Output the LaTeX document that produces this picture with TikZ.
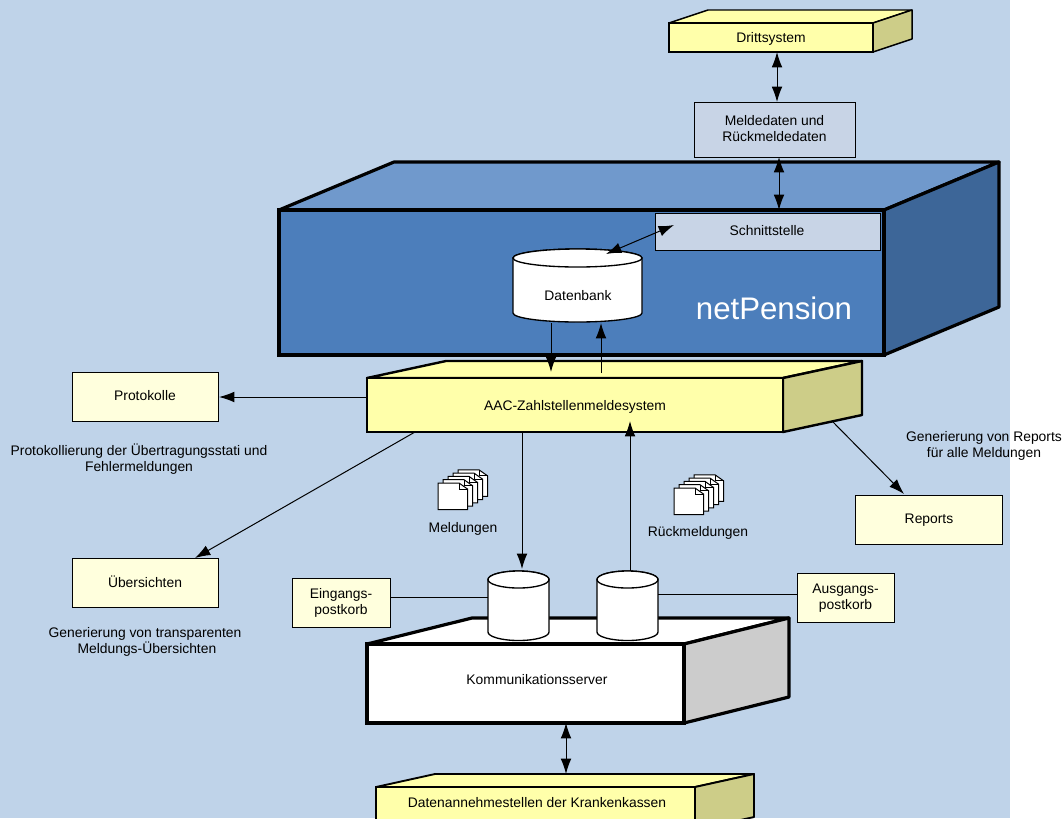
\documentclass[tikz,border=0pt]{standalone}
\usepackage{fontspec}
\setmainfont{Liberation Sans}
\usetikzlibrary{arrows.meta}
\definecolor{bgblue}{HTML}{BFD3E9}
\definecolor{npfront}{HTML}{4C7EBB}
\definecolor{nptop}{HTML}{7099CC}
\definecolor{npside}{HTML}{3D6698}
\definecolor{yfront}{HTML}{FFFFAA}
\definecolor{yside}{HTML}{CDCD88}
\definecolor{pale}{HTML}{FFFFDD}
\definecolor{greyblue}{HTML}{C8D4E6}
\definecolor{kside}{HTML}{CCCCCC}
\tikzset{
  every node/.style={outer sep=0pt},
  lbl/.style={font=\fontsize{10.4}{12}\selectfont,align=center,text=black,inner sep=0pt},
  flatbox/.style={draw=black,line width=0.75pt,fill=#1,inner sep=0pt,font=\fontsize{10.4}{12}\selectfont,align=center},
  conn/.style={draw=black,line width=0.75pt},
  darrow/.style={conn,{Latex[length=11.5pt,width=8pt]}-{Latex[length=11.5pt,width=8pt]}},
  sarrow/.style={conn,-{Latex[length=11.5pt,width=8pt]}},
}
\newcommand{\solidbox}[9]{%
  \path[#9,line join=round]
    (#2,#3) -- ++(#6,#7) -- (#4+#6,#3+#7) -- (#4,#3) -- cycle;
  \path[#8,line join=round]
    (#4,#3) -- (#4+#6,#3+#7) -- (#4+#6,#5+#7) -- (#4,#5) -- cycle;
}
\newcommand{\cyl}[6]{% name, x1, x2, ytopcentre, ybottomcentre, ry
  \path[draw=black,line width=1pt,fill=white]
    (#2,#4) -- (#2,#5) arc[start angle=180,end angle=0,x radius={(#3-#2)/2},y radius=#6]
    -- (#3,#4) arc[start angle=0,end angle=-180,x radius={(#3-#2)/2},y radius=#6] -- cycle;
  \path[draw=black,line width=1pt,fill=white]
    ({(#2+#3)/2},#4) ellipse[x radius={(#3-#2)/2},y radius=#6];
  \coordinate (#1) at ({(#2+#3)/2},{(#4+#5)/2});
}
\newcommand{\docs}[3]{% name, x, y of frontmost top-left
  \coordinate (#1) at (#2,#3);
  \foreach \i in {4,3,2,1,0}{
    \path[draw=black,line width=0.75pt,fill=white]
      ({#2+\i*5},{#3-\i*3.3}) -- ++(21,0) -- ++(8.5,6) -- ++(0,20.5) -- ++(-29.5,0) -- cycle;
    \path[draw=black,line width=0.75pt]
      ({#2+\i*5+21},{#3-\i*3.3}) -- ++(0,6) -- ++(8.5,0);
  }
}
\begin{document}
\begin{tikzpicture}[x=0.75pt,y=-0.75pt]
\useasboundingbox (0,0) rectangle (1062,818);
\fill[white] (0,0) rectangle (1062,818);
\fill[bgblue] (0,0) rectangle (1010,818);

% Drittsystem
\solidbox{}{669}{23}{873}{52}{39}{-13}{draw=black,line width=1.1pt,fill=yside}{draw=black,line width=1.1pt,fill=yfront}
\node[flatbox=yfront,line width=1.1pt,minimum width=153pt,minimum height=21.75pt,anchor=north west] (drit) at (669,23) {};
\node[lbl] (dritt) at (771,38.5) {Drittsystem};

% netPension
\solidbox{}{279}{210}{884}{355}{115}{-48}{draw=black,line width=2.4pt,fill=npside}{draw=black,line width=2.4pt,fill=nptop}
\node[draw=black,line width=2.4pt,fill=npfront,minimum width=453.75pt,minimum height=108.75pt,anchor=north west,inner sep=0pt] (np) at (279,210) {};
\node[font=\fontsize{23.4}{26}\selectfont,text=white,inner sep=0pt] (nptext) at (774,308) {netPension};

% Schnittstelle, Meldedaten
\node[flatbox=greyblue,minimum width=168.75pt,minimum height=27.75pt,anchor=north west] (schn) at (655,213) {};
\node[lbl] (schnt) at (767,231) {Schnittstelle};
\node[flatbox=greyblue,minimum width=120.75pt,minimum height=41.25pt,anchor=north west] (meld) at (694,102) {};
\node[lbl] (meldt) at (774.5,128.5) {Meldedaten und\\Rückmeldedaten};

% Datenbank
\cyl{dbank}{513}{642}{258}{313}{9}
\node[lbl] (dbt) at (578,295.5) {Datenbank};

% AAC
\solidbox{}{367}{378}{783}{432}{79}{-17}{draw=black,line width=1.8pt,fill=yside}{draw=black,line width=1.8pt,fill=yfront}
\node[draw=black,line width=1.8pt,fill=yfront,minimum width=312pt,minimum height=40.5pt,anchor=north west,inner sep=0pt] (aac) at (367,378) {};
\node[lbl] (aact) at (575,406.5) {AAC-Zahlstellenmeldesystem};

% Flat boxes
\node[flatbox=pale,minimum width=109.5pt,minimum height=36.75pt,anchor=north west] (prot) at (72,372) {};
\node[lbl] (prott) at (145,395.5) {Protokolle};
\node[flatbox=pale,minimum width=109.5pt,minimum height=36.75pt,anchor=north west] (uebs) at (72,558) {};
\node[lbl] (uebst) at (145,582) {Übersichten};
\node[flatbox=pale,minimum width=110.25pt,minimum height=36.75pt,anchor=north west] (rep) at (855,495) {};
\node[lbl] (rept) at (929,520) {Reports};
\node[flatbox=pale,minimum width=73.5pt,minimum height=36.75pt,anchor=north west] (eing) at (292,578) {};
\node[lbl] (eingt) at (341,603) {Eingangs-\\postkorb};
\node[flatbox=pale,minimum width=72.75pt,minimum height=36.75pt,anchor=north west] (ausg) at (797,573) {};
\node[lbl] (ausgt) at (845.5,598) {Ausgangs-\\postkorb};

% Free labels
\node[lbl] (l1) at (139,459.5) {Protokollierung der Übertragungsstati und\\Fehlermeldungen};
\node[lbl] (l2) at (145,642) {Generierung von transparenten\\\ Meldungs-Übersichten};
\node[lbl] (l3) at (984,445.5) {Generierung von Reports\\für alle Meldungen};
\node[lbl] (l4) at (463,528.5) {Meldungen};
\node[lbl] (l5) at (698,532.5) {Rückmeldungen};

\docs{d1}{438}{483}
\docs{d2}{674}{488}

% Kommunikationsserver
\solidbox{}{367}{644}{684}{723}{105}{-26}{draw=black,line width=2.4pt,fill=kside}{draw=black,line width=2.4pt,fill=white}
\node[draw=black,line width=2.4pt,fill=white,minimum width=237.75pt,minimum height=59.25pt,anchor=north west,inner sep=0pt] (komm) at (367,644) {};
\node[lbl] (kommt) at (537,679.5) {Kommunikationsserver};

% Mail cylinders
\cyl{cyla}{488}{549}{579.5}{632}{8.5}
\cyl{cylb}{597}{658}{579.5}{632}{8.5}

% Datenannahme
\solidbox{}{376}{787}{695}{830}{59}{-13}{draw=black,line width=1.4pt,fill=yside}{draw=black,line width=1.4pt,fill=yfront}
\node[draw=black,line width=1.4pt,fill=yfront,minimum width=239.25pt,minimum height=32pt,anchor=north west,inner sep=0pt] (dann) at (376,787) {};
\node[lbl] (dannt) at (537,803) {Datenannehmestellen der Krankenkassen};

% port coordinates
\coordinate (p1) at (777,52);   \coordinate (p2) at (777,102);
\coordinate (p3) at (779,157);  \coordinate (p4) at (779,210);
\coordinate (p5) at (674,225);  \coordinate (p6) at (606,254);
\coordinate (p7) at (551,323);  \coordinate (p8) at (551,372);
\coordinate (p9) at (601,373);  \coordinate (p10) at (601,323);
\coordinate (p11) at (367,397); \coordinate (p12) at (219,397);
\coordinate (p13) at (415,432); \coordinate (p14) at (195,558);
\coordinate (p15) at (522,432); \coordinate (p16) at (522,569);
\coordinate (p17) at (630,571); \coordinate (p18) at (630,421);
\coordinate (p19) at (832,421); \coordinate (p20) at (904,494);
\coordinate (p21) at (390,597); \coordinate (p22) at (488,597);
\coordinate (p23) at (658,594); \coordinate (p24) at (797,594);
\coordinate (p25) at (566,723); \coordinate (p26) at (566,774);

\draw[darrow] (p1) -- (p2);
\draw[darrow] (p3) -- (p4);
\draw[darrow] (p5) -- (p6);
\draw[sarrow] (p7) -- (p8);
\draw[sarrow] (p9) -- (p10);
\draw[sarrow] (p11) -- (p12);
\draw[sarrow] (p13) -- (p14);
\draw[sarrow] (p15) -- (p16);
\draw[sarrow] (p17) -- (p18);
\draw[sarrow] (p19) -- (p20);
\draw[conn] (p21) -- (p22);
\draw[conn] (p23) -- (p24);
\draw[darrow] (p25) -- (p26);
\end{tikzpicture}
\end{document}
